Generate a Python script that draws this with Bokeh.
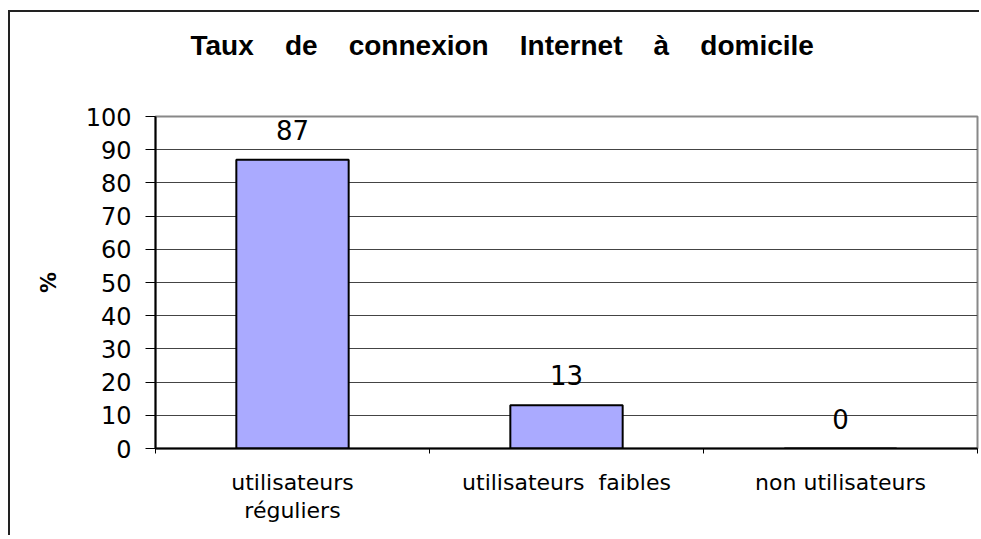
from bokeh.plotting import figure
from bokeh.models import ColumnDataSource, LabelSet, FixedTicker, LinearAxis, Title
from bokeh.core.properties import value
from bokeh.embed import file_html
from bokeh.resources import INLINE

# ---- data ----
categories = ["utilisateurs réguliers", "utilisateurs faibles", "non utilisateurs"]
label_line1 = ["utilisateurs", "utilisateurs\u00a0\u00a0faibles", "non utilisateurs"]
label_line2 = ["réguliers", "", ""]
values = [87, 13, 0]
value_labels = [str(v) for v in values]
y_ticks = [0, 10, 20, 30, 40, 50, 60, 70, 80, 90, 100]
title_words = ["Taux", "de", "connexion", "Internet", "à", "domicile"]
y_label = "%"

NB = "\u00a0"
title_text = (NB * 4).join(title_words)

# category boundaries / centres on the factor range's synthetic axis
boundary_ticks = list(range(len(categories) + 1))
centre_ticks = [i + 0.5 for i in range(len(categories))]

source = ColumnDataSource(dict(cat=categories, val=values, lab=value_labels))

p = figure(
    x_range=categories, y_range=(0, 100),
    width=971, height=525,
    min_border_left=145, min_border_right=4, min_border_top=104, min_border_bottom=89,
    output_backend="svg", toolbar_location=None,
    x_axis_location=None, y_axis_location="left",
)
p.title = None
p.styles = {"border-left": "2px solid #222", "border-top": "2px solid #222",
            "margin-left": "8px", "margin-top": "10px"}

p.background_fill_color = "white"
p.border_fill_color = "white"
p.outline_line_color = "#888888"
p.outline_line_width = 2

# empty spacer between plot area and title
spacer = LinearAxis(ticker=FixedTicker(ticks=[0]))
spacer.axis_line_color = None
spacer.major_tick_line_color = None
spacer.minor_tick_line_color = None
spacer.major_tick_in = 0
spacer.major_tick_out = 51
spacer.major_label_overrides = {0: ""}
spacer.major_label_standoff = 0
p.add_layout(spacer, "above")

# title
title = Title(text=title_text, align="left", offset=35, vertical_align="bottom",
              standoff=10, text_font="Liberation Sans", text_font_size="28px",
              text_font_style="bold", text_color="black")
p.add_layout(title, "above")

# bars
p.vbar(x="cat", top="val", width=0.41, source=source,
       fill_color="#AAAAFF", line_color="black", line_width=2)

labels = LabelSet(x="cat", y="val", text="lab", source=source,
                  y_offset=20, text_align="center", text_baseline="alphabetic",
                  text_font=value("DejaVu Sans"), text_font_size="26px",
                  text_color="black")
p.add_layout(labels)

# y axis
yax = p.yaxis[0]
yax.ticker = FixedTicker(ticks=y_ticks)
yax.minor_tick_line_color = None
yax.major_tick_in = 0
yax.major_tick_out = 10
yax.major_tick_line_color = "black"
yax.major_tick_line_width = 1
yax.axis_line_color = "black"
yax.axis_line_width = 2
yax.major_label_text_font = "DejaVu Sans"
yax.major_label_text_font_size = "24px"
yax.major_label_text_color = "black"
yax.major_label_standoff = 14
yax.axis_label = y_label
yax.axis_label_text_font = "DejaVu Sans"
yax.axis_label_text_font_style = "bold"
yax.axis_label_text_font_size = "21px"
yax.axis_label_text_color = "black"
yax.axis_label_standoff = 22

# x axis: boundary tick marks
tick_axis = LinearAxis(ticker=FixedTicker(ticks=boundary_ticks))
tick_axis.minor_tick_line_color = None
tick_axis.major_tick_in = 0
tick_axis.major_tick_out = 5
tick_axis.major_tick_line_color = "black"
tick_axis.axis_line_color = "black"
tick_axis.axis_line_width = 2
tick_axis.major_label_overrides = {t: "" for t in boundary_ticks}
tick_axis.major_label_standoff = 0
p.add_layout(tick_axis, "below")

# x axis: category labels (two lines)
def label_axis(lines, standoff):
    ax = LinearAxis(ticker=FixedTicker(ticks=centre_ticks))
    ax.axis_line_color = None
    ax.major_tick_line_color = None
    ax.minor_tick_line_color = None
    ax.major_label_overrides = dict(zip(centre_ticks, lines))
    ax.major_label_text_font = "DejaVu Sans"
    ax.major_label_text_font_size = "22px"
    ax.major_label_text_color = "black"
    ax.major_label_standoff = standoff
    return ax

p.add_layout(label_axis(label_line1, 10), "below")
p.add_layout(label_axis(label_line2, -6), "below")

# grid
p.xgrid.grid_line_color = None
p.ygrid.grid_line_color = "#444444"
p.ygrid.grid_line_width = 1

open("out.html", "w").write(file_html(p, INLINE))
